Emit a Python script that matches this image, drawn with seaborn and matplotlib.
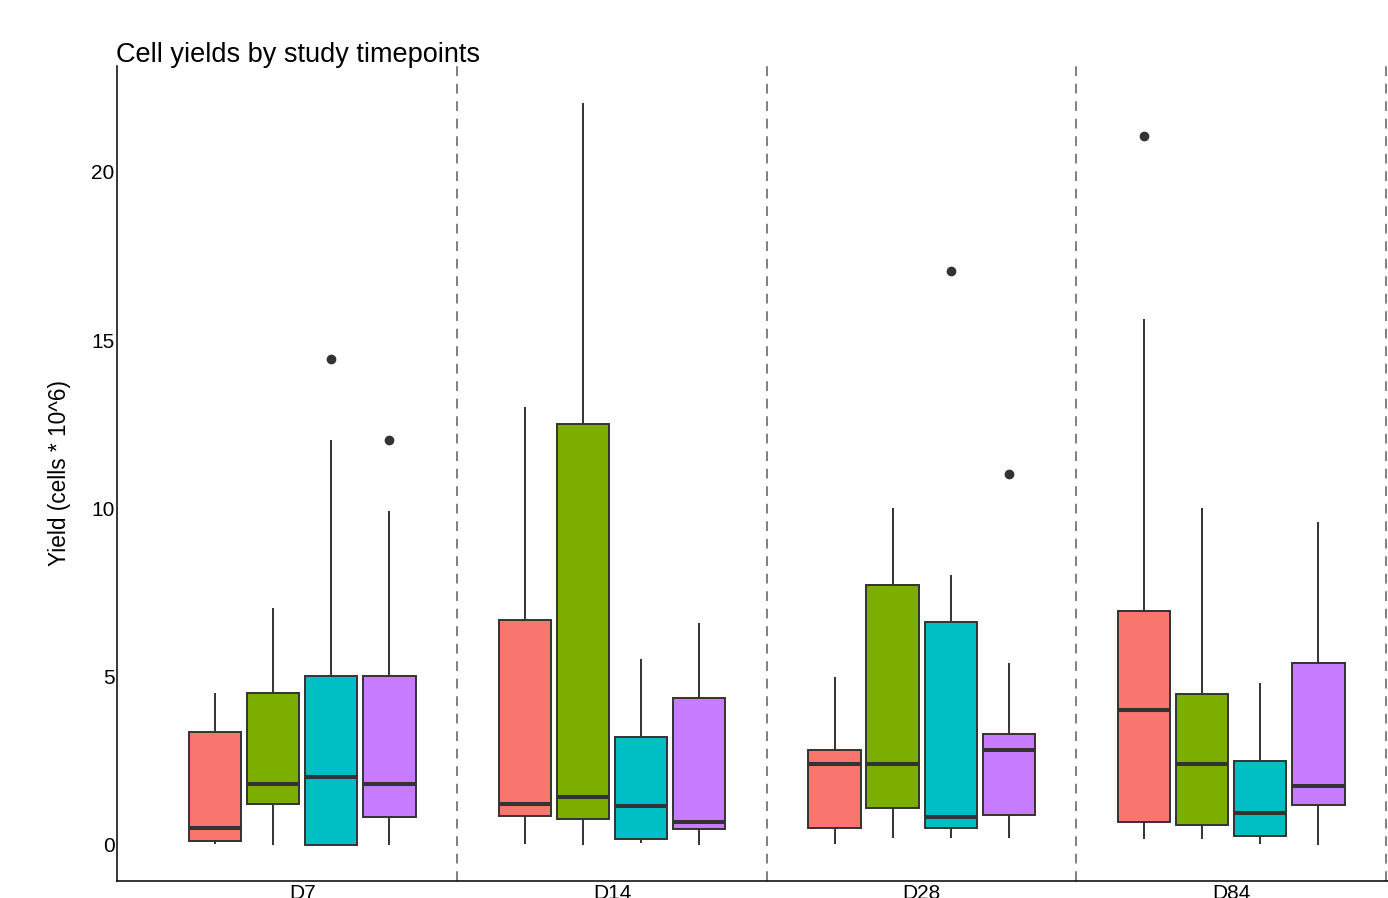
import numpy as np
import pandas as pd
import matplotlib
matplotlib.use("Agg")
import matplotlib.pyplot as plt
import seaborn as sns

# ---------------- data ----------------
timepoints = ["D7", "D14", "D28", "D84"]
groups = ["Group 1", "Group 2", "Group 3", "Group 4"]
group_colors = ["#F8766D", "#7CAE00", "#00BFC4", "#C77CFF"]

# five-number summaries: rows = timepoints, columns = groups
whisker_low = [
    [0.03, 0.00, 0.00, 0.00],
    [0.03, 0.00, 0.05, 0.00],
    [0.03, 0.22, 0.22, 0.22],
    [0.18, 0.18, 0.04, 0.00],
]
quartile_1 = [
    [0.12, 1.22, 0.00, 0.82],
    [0.87, 0.76, 0.19, 0.48],
    [0.51, 1.11, 0.51, 0.90],
    [0.67, 0.60, 0.28, 1.18],
]
median = [
    [0.51, 1.81, 2.03, 1.81],
    [1.22, 1.42, 1.16, 0.69],
    [2.41, 2.40, 0.82, 2.81],
    [4.02, 2.42, 0.96, 1.76],
]
quartile_3 = [
    [3.36, 4.52, 5.02, 5.02],
    [6.68, 12.52, 3.22, 4.36],
    [2.81, 7.72, 6.62, 3.31],
    [6.96, 4.50, 2.49, 5.41],
]
whisker_high = [
    [4.51, 7.04, 12.03, 9.92],
    [13.02, 22.04, 5.52, 6.60],
    [5.00, 10.00, 8.01, 5.42],
    [15.62, 10.00, 4.82, 9.58],
]
# outliers
outlier_timepoint = ["D7", "D7", "D28", "D28", "D84"]
outlier_group = ["Group 3", "Group 4", "Group 3", "Group 4", "Group 1"]
outlier_value = [14.43, 12.03, 17.05, 11.02, 21.06]

# ---------------- build tables ----------------
rows = []
for i, tp in enumerate(timepoints):
    for j, g in enumerate(groups):
        for v in (whisker_low[i][j], quartile_1[i][j], median[i][j],
                  quartile_3[i][j], whisker_high[i][j]):
            rows.append({"timepoint": tp, "group": g, "yield": v})
df = pd.DataFrame(rows)
out_df = pd.DataFrame({"timepoint": outlier_timepoint,
                       "group": outlier_group,
                       "yield": outlier_value})

# ---------------- style ----------------
sns.set_style("white")
plt.rcParams["font.family"] = ["Liberation Sans", "DejaVu Sans"]
plt.rcParams["text.color"] = "black"
plt.rcParams["axes.labelcolor"] = "black"

W, H = 1388, 898
fig = plt.figure(figsize=(W / 100, H / 100), dpi=100)
ax_left, ax_bottom = 116.5, 881.0
ax_top = 65.7
ax_width = 309.67 * 4.2
ax = fig.add_axes([ax_left / W, (H - ax_bottom) / H,
                   ax_width / W, (ax_bottom - ax_top) / H])

line_col = "#333333"
pal = dict(zip(groups, group_colors))

sns.boxplot(data=df, x="timepoint", y="yield", hue="group",
            order=timepoints, hue_order=groups, palette=pal,
            saturation=1, width=0.75, gap=0.1, whis=(0, 100),
            fliersize=0, linewidth=1.4, linecolor=line_col,
            medianprops={"linewidth": 2.9, "color": line_col},
            capprops={"visible": False},
            legend=False, ax=ax)

sns.pointplot(data=out_df, x="timepoint", y="yield", hue="group",
              order=timepoints, hue_order=groups,
              palette={g: line_col for g in groups},
              dodge=0.75 / len(groups) * (len(groups) - 1),
              linestyle="none", markers="o", errorbar=None,
              markersize=6, markeredgewidth=1,
              legend=False, ax=ax)

# dashed separators between timepoints
for k in range(len(timepoints)):
    ax.axvline(k + 0.5, color="#7f7f7f", linewidth=1.4,
               linestyle=(0, (5, 4)), zorder=0)

ax.set_xlim(-0.6, len(timepoints) - 1 + 0.6)
ax.set_ylim(-1.07, 23.15)
ax.set_yticks([0, 5, 10, 15, 20])

ax.set_xlabel("")
ax.set_ylabel("Yield (cells * 10^6)", fontsize=16.3, labelpad=14.6,
              color="black")
ax.set_title("Cell yields by study timepoints", loc="left",
             fontsize=19.5, pad=3, color="black")

ax.tick_params(axis="both", length=0, labelsize=15, colors="black")
ax.tick_params(axis="y", pad=1.4)
ax.tick_params(axis="x", pad=2)

for s in ("top", "right"):
    ax.spines[s].set_visible(False)
for s in ("left", "bottom"):
    ax.spines[s].set_color("black")
    ax.spines[s].set_linewidth(1.1)

fig.savefig("out.png", dpi=100)
